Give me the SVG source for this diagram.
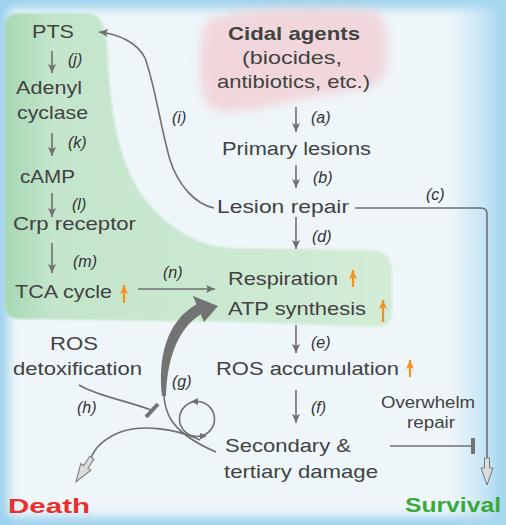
<svg xmlns="http://www.w3.org/2000/svg" width="506" height="525" viewBox="0 0 506 525">
<style>
.t{font-family:"Liberation Sans",Arial,sans-serif;font-size:19px;fill:#424242}
.b{font-weight:bold}
.l{font-family:"Liberation Sans",Arial,sans-serif;font-size:16px;font-style:italic;fill:#333}
.c{fill:none;stroke:#707070;stroke-width:1.6}
.o{fill:none;stroke:#f5921e;stroke-width:2.2}
</style>
<defs>
<filter id="blur6" x="-20%" y="-20%" width="140%" height="140%"><feGaussianBlur stdDeviation="6"/></filter>
<filter id="blur4" x="-20%" y="-20%" width="140%" height="140%"><feGaussianBlur stdDeviation="5"/></filter>
<filter id="blur1" x="-5%" y="-5%" width="110%" height="110%"><feGaussianBlur stdDeviation="1.2"/></filter>
<linearGradient id="gR" x1="0" x2="1" y1="0" y2="0">
<stop offset="0" stop-color="#b4def3" stop-opacity="0"/>
<stop offset="1" stop-color="#a6d7f1" stop-opacity="1"/>
</linearGradient>
<linearGradient id="gG" x1="0" x2="1" y1="0" y2="0">
<stop offset="0" stop-color="#a7d8b4"/>
<stop offset="0.12" stop-color="#c3e5cb"/>
<stop offset="1" stop-color="#d3ecd7"/>
</linearGradient>
<marker id="ah" markerUnits="userSpaceOnUse" markerWidth="10" markerHeight="8" refX="9" refY="4" orient="auto">
<path d="M0,0 L9,4 L0,8 L2,4 Z" fill="#707070"/>
</marker>
<marker id="ao" markerUnits="userSpaceOnUse" markerWidth="10" markerHeight="8" refX="9" refY="4" orient="auto">
<path d="M0,0 L9,4 L0,8 L2,4 Z" fill="#f5921e"/>
</marker>
</defs>

<g id="background">
<rect width="506" height="525" fill="#eef6fa"/>
<rect x="0" y="0" width="506" height="525" fill="none" stroke="#8fcbeb" stroke-width="14" filter="url(#blur6)"/>
<rect x="450" y="0" width="56" height="525" fill="url(#gR)"/>
<path d="M205,25 C215,8 300,6 370,10 C388,12 390,40 386,70 C384,88 360,90 320,96 C290,100 260,112 225,112 C205,112 200,95 200,70 C200,45 200,32 205,25 Z" fill="#f3c3c7" opacity="0.6" filter="url(#blur4)"/>
<path d="M5,28 C5,17 10,13 22,13 L88,13 C100,13 105,25 107,45 C110,110 118,170 150,205 C170,228 195,245 230,248 L372,250 C386,250 392,260 392,272 L392,312 C392,322 386,327 374,327 L240,322 L20,319 C10,319 5,314 5,305 Z" fill="url(#gG)" filter="url(#blur1)"/>
</g>

<g id="connectors">
<line class="c" x1="52" y1="51" x2="52" y2="73" marker-end="url(#ah)"/>
<line class="c" x1="52" y1="133" x2="52" y2="156" marker-end="url(#ah)"/>
<line class="c" x1="52" y1="193" x2="52" y2="217" marker-end="url(#ah)"/>
<line class="c" x1="52" y1="243" x2="52" y2="273" marker-end="url(#ah)"/>
<line class="c" x1="296" y1="107" x2="296" y2="132" marker-end="url(#ah)"/>
<line class="c" x1="296" y1="165" x2="296" y2="188" marker-end="url(#ah)"/>
<line class="c" x1="296" y1="217" x2="296" y2="249" marker-end="url(#ah)"/>
<line class="c" x1="296" y1="325" x2="296" y2="353" marker-end="url(#ah)"/>
<line class="c" x1="296" y1="390" x2="296" y2="423" marker-end="url(#ah)"/>
<line class="c" x1="138" y1="289" x2="215" y2="289" marker-end="url(#ah)"/>
<path class="c" d="M214,208 C195,204 178,185 170,160 C160,125 155,85 145,58 C137,42 118,34 99,32" marker-end="url(#ah)"/>
<path class="c" d="M355,208 L481,208 Q487,208 487,214 L487,459"/>
<path d="M0,0 L-6,-17 L-2.5,-17 L-2.5,-27 L2.5,-27 L2.5,-17 L6,-17 Z" transform="translate(487,485)" fill="#dcdcdc" stroke="#777" stroke-width="1"/>
<path class="c" d="M216,452 C195,443 178,432 170,418 C166,410 164,402 164,394"/>
<path d="M162,396 C158,360 165,322 197,304 L201,314 C176,330 167,362 166,396 Z" fill="#737373"/>
<path d="M193,296 L218,306 L204,322 Z" fill="#737373"/>
<path class="c" d="M200,440 C175,428 140,424 118,433 C102,440 94,450 91,458"/>
<path d="M0,0 L-6,-18 L-2.5,-18 L-2.5,-29 L2.5,-29 L2.5,-18 L6,-18 Z" transform="translate(76,482) rotate(33)" fill="#dcdcdc" stroke="#777" stroke-width="1"/>
<path class="c" d="M79,385 C100,397 125,400 151,410"/>
<line x1="146" y1="417" x2="158" y2="404" stroke="#737373" stroke-width="4"/>
<line class="c" x1="390" y1="446" x2="473" y2="446"/>
<line x1="473" y1="438" x2="473" y2="454" stroke="#737373" stroke-width="4"/>
<circle class="c" cx="197" cy="419" r="17.5" stroke-width="1.3"/>
<path d="M191,401.5 L198,398 L198,405 Z" fill="#707070"/>
<path d="M207,436 L200,433 L200,439.5 Z" fill="#707070"/>
<line class="o" x1="124" y1="303" x2="124" y2="285" marker-end="url(#ao)"/>
<line class="o" x1="353" y1="287" x2="353" y2="270" marker-end="url(#ao)"/>
<line class="o" x1="383" y1="322" x2="383" y2="300" marker-end="url(#ao)"/>
<line class="o" x1="410" y1="377" x2="410" y2="360" marker-end="url(#ao)"/>
</g>

<g id="labels">
<text class="l" x="68" y="65">(j)</text>
<text class="l" x="68" y="148">(k)</text>
<text class="l" x="72" y="210">(l)</text>
<text class="l" x="73" y="267">(m)</text>
<text class="l" x="163" y="278">(n)</text>
<text class="l" x="172" y="123">(i)</text>
<text class="l" x="311" y="123">(a)</text>
<text class="l" x="313" y="183">(b)</text>
<text class="l" x="426" y="200">(c)</text>
<text class="l" x="312" y="242">(d)</text>
<text class="l" x="311" y="348">(e)</text>
<text class="l" x="311" y="413">(f)</text>
<text class="l" x="172" y="387">(g)</text>
<text class="l" x="77" y="413">(h)</text>
</g>

<g id="node-pts"><text class="t" x="32" y="38" textLength="42" lengthAdjust="spacingAndGlyphs">PTS</text></g>
<g id="node-adenyl"><text class="t" x="16" y="94" textLength="66" lengthAdjust="spacingAndGlyphs">Adenyl</text><text class="t" x="17" y="119" textLength="71" lengthAdjust="spacingAndGlyphs">cyclase</text></g>
<g id="node-camp"><text class="t" x="20" y="183" textLength="55" lengthAdjust="spacingAndGlyphs">cAMP</text></g>
<g id="node-crp"><text class="t" x="13" y="230" textLength="123" lengthAdjust="spacingAndGlyphs">Crp receptor</text></g>
<g id="node-tca"><text class="t" x="15" y="298" textLength="97" lengthAdjust="spacingAndGlyphs">TCA cycle</text></g>
<g id="node-rosdetox"><text class="t" x="50" y="350" textLength="48" lengthAdjust="spacingAndGlyphs">ROS</text><text class="t" x="13" y="375" textLength="129" lengthAdjust="spacingAndGlyphs">detoxification</text></g>
<g id="node-cidal"><text class="t b" x="228" y="40" textLength="132" lengthAdjust="spacingAndGlyphs">Cidal agents</text><text class="t" x="242" y="64" textLength="100" lengthAdjust="spacingAndGlyphs">(biocides,</text><text class="t" x="217" y="88" textLength="153" lengthAdjust="spacingAndGlyphs">antibiotics, etc.)</text></g>
<g id="node-primary"><text class="t" x="222" y="155" textLength="149" lengthAdjust="spacingAndGlyphs">Primary lesions</text></g>
<g id="node-repair"><text class="t" x="217" y="213" textLength="132" lengthAdjust="spacingAndGlyphs">Lesion repair</text></g>
<g id="node-resp"><text class="t" x="228" y="285" textLength="110" lengthAdjust="spacingAndGlyphs">Respiration</text><text class="t" x="228" y="315" textLength="138" lengthAdjust="spacingAndGlyphs">ATP synthesis</text></g>
<g id="node-ros"><text class="t" x="216" y="375" textLength="183" lengthAdjust="spacingAndGlyphs">ROS accumulation</text></g>
<g id="node-damage"><text class="t" x="225" y="452" textLength="126" lengthAdjust="spacingAndGlyphs">Secondary &amp;</text><text class="t" x="224" y="478" textLength="154" lengthAdjust="spacingAndGlyphs">tertiary damage</text></g>
<g id="node-overwhelm"><text class="t" x="381" y="408" style="font-size:16px" textLength="94" lengthAdjust="spacingAndGlyphs">Overwhelm</text><text class="t" x="407" y="428" style="font-size:16px" textLength="48" lengthAdjust="spacingAndGlyphs">repair</text></g>
<g id="node-death"><text class="t b" x="8" y="513" style="font-size:21px;fill:#e8312f" textLength="82" lengthAdjust="spacingAndGlyphs">Death</text></g>
<g id="node-survival"><text class="t b" x="405" y="512" style="font-size:21px;fill:#3aa83a" textLength="96" lengthAdjust="spacingAndGlyphs">Survival</text></g>
</svg>
